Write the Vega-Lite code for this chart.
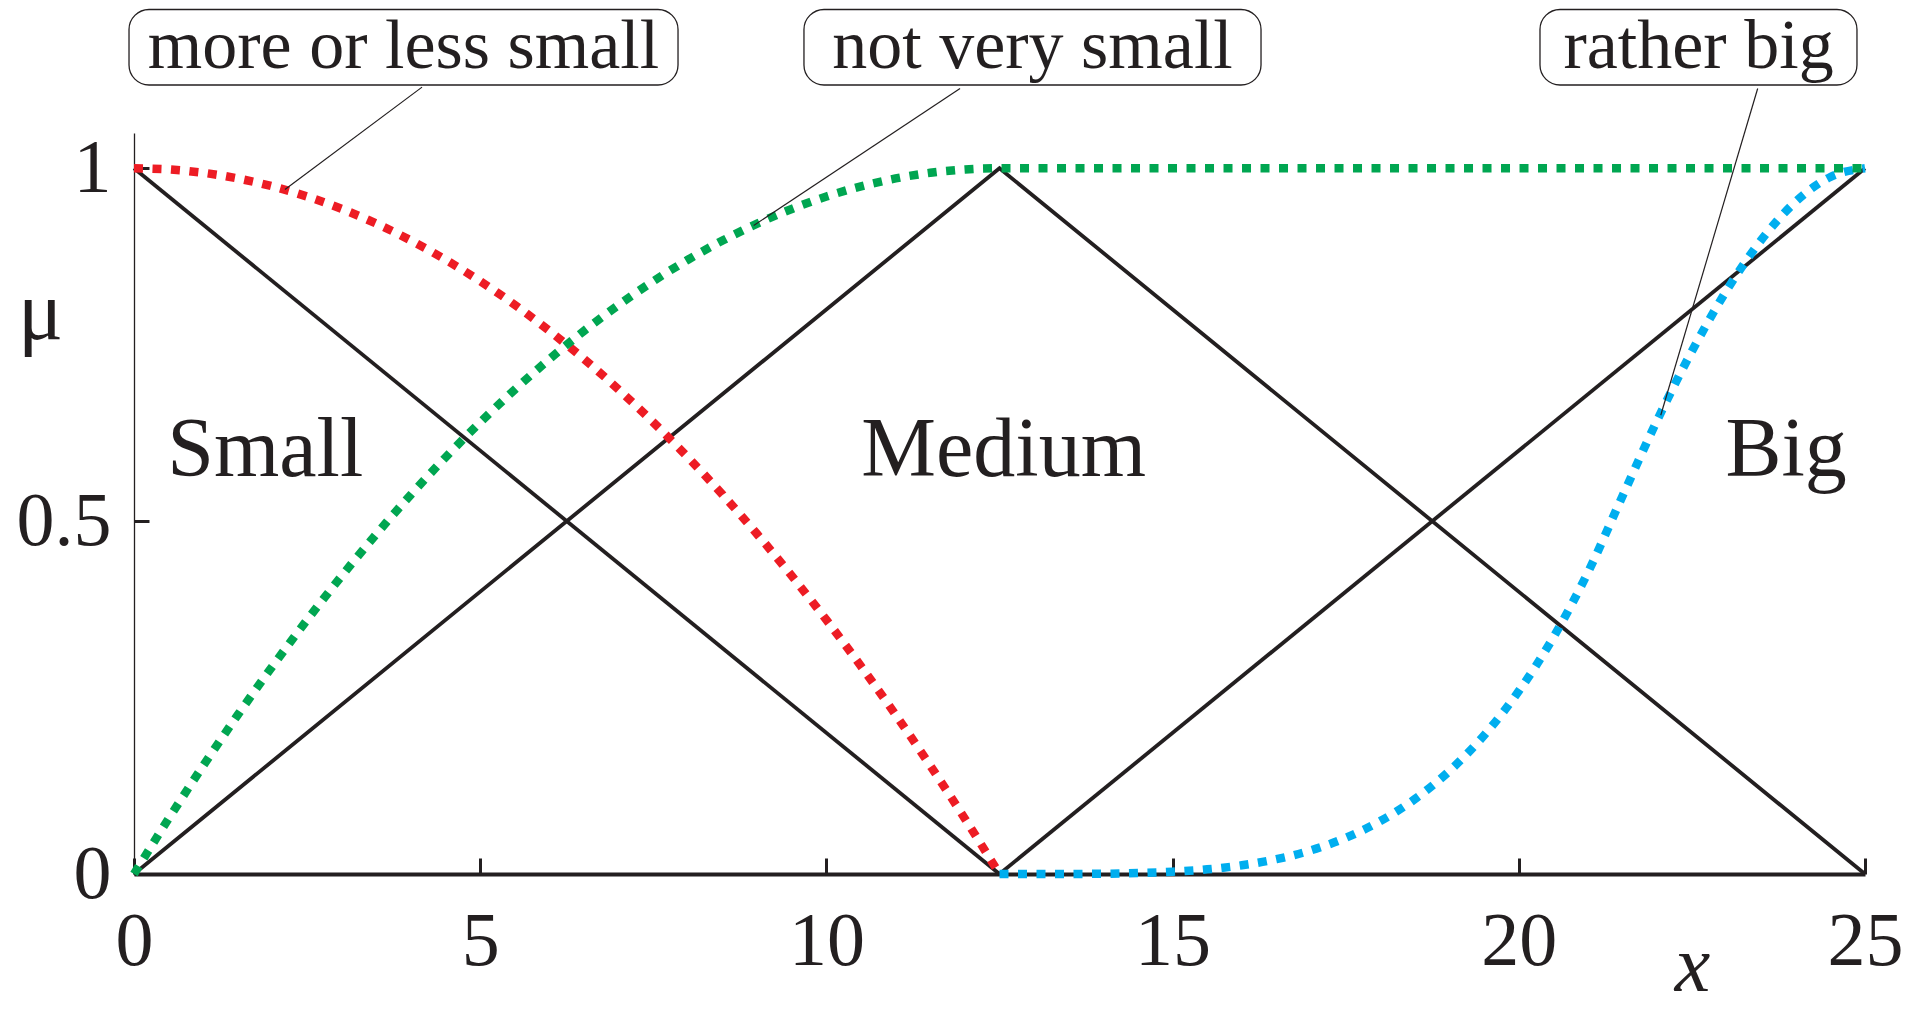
{
  "$schema": "https://vega.github.io/schema/vega-lite/v6.json",
  "width": 1731,
  "height": 741,
  "autosize": {"type": "none"},
  "padding": {"left": 134, "top": 133, "right": 60, "bottom": 136},
  "background": "white",
  "config": {
    "view": {"stroke": null},
    "font": "Liberation Serif"
  },
  "datasets": {
    "fuzzy": [
      {"set": "Small", "x": 0, "mu": 1},
      {"set": "Small", "x": 12.5, "mu": 0},
      {"set": "Medium", "x": 0, "mu": 0},
      {"set": "Medium", "x": 12.5, "mu": 1},
      {"set": "Medium", "x": 25, "mu": 0},
      {"set": "Big", "x": 12.5, "mu": 0},
      {"set": "Big", "x": 25, "mu": 1}
    ],
    "hedges": [
      {"hedge": "more or less small", "x": 0, "mu": 1},
      {"hedge": "more or less small", "x": 0.5, "mu": 0.9984},
      {"hedge": "more or less small", "x": 1, "mu": 0.9936},
      {"hedge": "more or less small", "x": 1.5, "mu": 0.9856},
      {"hedge": "more or less small", "x": 2, "mu": 0.9744},
      {"hedge": "more or less small", "x": 2.5, "mu": 0.96},
      {"hedge": "more or less small", "x": 3, "mu": 0.9424},
      {"hedge": "more or less small", "x": 3.5, "mu": 0.9216},
      {"hedge": "more or less small", "x": 4, "mu": 0.8976},
      {"hedge": "more or less small", "x": 4.5, "mu": 0.8704},
      {"hedge": "more or less small", "x": 5, "mu": 0.84},
      {"hedge": "more or less small", "x": 5.5, "mu": 0.8064},
      {"hedge": "more or less small", "x": 6, "mu": 0.7696},
      {"hedge": "more or less small", "x": 6.5, "mu": 0.7296},
      {"hedge": "more or less small", "x": 7, "mu": 0.6864},
      {"hedge": "more or less small", "x": 7.5, "mu": 0.64},
      {"hedge": "more or less small", "x": 8, "mu": 0.5904},
      {"hedge": "more or less small", "x": 8.5, "mu": 0.5376},
      {"hedge": "more or less small", "x": 9, "mu": 0.4816},
      {"hedge": "more or less small", "x": 9.5, "mu": 0.4224},
      {"hedge": "more or less small", "x": 10, "mu": 0.36},
      {"hedge": "more or less small", "x": 10.5, "mu": 0.2944},
      {"hedge": "more or less small", "x": 11, "mu": 0.2256},
      {"hedge": "more or less small", "x": 11.5, "mu": 0.1536},
      {"hedge": "more or less small", "x": 12, "mu": 0.0784},
      {"hedge": "more or less small", "x": 12.5, "mu": 0},

      {"hedge": "rather big", "x": 12.5, "mu": 0},
      {"hedge": "rather big", "x": 13, "mu": 0},
      {"hedge": "rather big", "x": 13.5, "mu": 0.0001},
      {"hedge": "rather big", "x": 14, "mu": 0.0004},
      {"hedge": "rather big", "x": 14.5, "mu": 0.0013},
      {"hedge": "rather big", "x": 15, "mu": 0.0032},
      {"hedge": "rather big", "x": 15.5, "mu": 0.0066},
      {"hedge": "rather big", "x": 16, "mu": 0.0123},
      {"hedge": "rather big", "x": 16.5, "mu": 0.021},
      {"hedge": "rather big", "x": 17, "mu": 0.0336},
      {"hedge": "rather big", "x": 17.5, "mu": 0.0512},
      {"hedge": "rather big", "x": 18, "mu": 0.075},
      {"hedge": "rather big", "x": 18.5, "mu": 0.1062},
      {"hedge": "rather big", "x": 19, "mu": 0.1462},
      {"hedge": "rather big", "x": 19.5, "mu": 0.1967},
      {"hedge": "rather big", "x": 20, "mu": 0.2592},
      {"hedge": "rather big", "x": 20.5, "mu": 0.3355},
      {"hedge": "rather big", "x": 21, "mu": 0.4277},
      {"hedge": "rather big", "x": 21.5, "mu": 0.5361},
      {"hedge": "rather big", "x": 22, "mu": 0.6432},
      {"hedge": "rather big", "x": 22.5, "mu": 0.7408},
      {"hedge": "rather big", "x": 23, "mu": 0.8267},
      {"hedge": "rather big", "x": 23.5, "mu": 0.8982},
      {"hedge": "rather big", "x": 24, "mu": 0.9528},
      {"hedge": "rather big", "x": 24.5, "mu": 0.9877},
      {"hedge": "rather big", "x": 25, "mu": 1},

      {"hedge": "not very small", "x": 0, "mu": 0},
      {"hedge": "not very small", "x": 0.5, "mu": 0.0784},
      {"hedge": "not very small", "x": 1, "mu": 0.1536},
      {"hedge": "not very small", "x": 1.5, "mu": 0.2256},
      {"hedge": "not very small", "x": 2, "mu": 0.2944},
      {"hedge": "not very small", "x": 2.5, "mu": 0.36},
      {"hedge": "not very small", "x": 3, "mu": 0.4224},
      {"hedge": "not very small", "x": 3.5, "mu": 0.4816},
      {"hedge": "not very small", "x": 4, "mu": 0.5376},
      {"hedge": "not very small", "x": 4.5, "mu": 0.5904},
      {"hedge": "not very small", "x": 5, "mu": 0.64},
      {"hedge": "not very small", "x": 5.5, "mu": 0.6864},
      {"hedge": "not very small", "x": 6, "mu": 0.7296},
      {"hedge": "not very small", "x": 6.5, "mu": 0.7696},
      {"hedge": "not very small", "x": 7, "mu": 0.8064},
      {"hedge": "not very small", "x": 7.5, "mu": 0.84},
      {"hedge": "not very small", "x": 8, "mu": 0.8704},
      {"hedge": "not very small", "x": 8.5, "mu": 0.8976},
      {"hedge": "not very small", "x": 9, "mu": 0.9216},
      {"hedge": "not very small", "x": 9.5, "mu": 0.9424},
      {"hedge": "not very small", "x": 10, "mu": 0.96},
      {"hedge": "not very small", "x": 10.5, "mu": 0.9744},
      {"hedge": "not very small", "x": 11, "mu": 0.9856},
      {"hedge": "not very small", "x": 11.5, "mu": 0.9936},
      {"hedge": "not very small", "x": 12, "mu": 0.9984},
      {"hedge": "not very small", "x": 12.5, "mu": 1},
      {"hedge": "not very small", "x": 25, "mu": 1}
    ],
    "callouts": [
      {"text": "more or less small", "x0": -0.072, "x1": 7.857, "xc": 3.892, "top": 1.225, "bottom": 1.118, "base": 1.1416, "lx": 4.16, "ly": 1.115, "px": 2.18, "py": 0.97},
      {"text": "not very small", "x0": 9.676, "x1": 16.277, "xc": 12.977, "top": 1.225, "bottom": 1.118, "base": 1.1416, "lx": 11.93, "ly": 1.113, "px": 8.95, "py": 0.919},
      {"text": "rather big", "x0": 20.306, "x1": 24.884, "xc": 22.596, "top": 1.225, "bottom": 1.118, "base": 1.1416, "lx": 23.45, "ly": 1.113, "px": 22.05, "py": 0.65}
    ],
    "setNames": [
      {"name": "Small", "x": 0.48, "mu": 0.564, "anchor": "left"},
      {"name": "Medium", "x": 12.56, "mu": 0.564, "anchor": "center"},
      {"name": "Big", "x": 23.86, "mu": 0.564, "anchor": "center"}
    ]
  },
  "layer": [
    {
      "data": {"name": "fuzzy"},
      "mark": {"type": "line", "color": "#231f20", "strokeWidth": 3.8, "strokeCap": "butt", "strokeJoin": "miter"},
      "encoding": {
        "x": {
          "field": "x", "type": "quantitative",
          "scale": {"domain": [0, 25], "nice": false, "zero": false},
          "axis": {
            "values": [0, 5, 10, 15, 20, 25],
            "format": "d",
            "grid": false,
            "domainColor": "#231f20", "domainWidth": 4,
            "tickColor": "#231f20", "tickWidth": 3, "tickSize": -16,
            "labelFlush": false, "labelFontSize": 76, "labelColor": "#231f20",
            "labelFont": "Liberation Serif", "labelPadding": 46, "labelDx": 8,
            "title": "x", "titleFont": "Liberation Serif", "titleFontStyle": "italic",
            "titleFontWeight": "normal", "titleFontSize": 80, "titleColor": "#231f20",
            "titleX": 1558, "titleY": 116, "titleBaseline": "alphabetic", "titleAlign": "center"
          }
        },
        "y": {
          "field": "mu", "type": "quantitative",
          "scale": {"domain": [0, 1.05], "nice": false, "zero": false},
          "axis": {
            "values": [0, 0.5, 1],
            "format": "~g",
            "grid": false,
            "domainColor": "#231f20", "domainWidth": 1.3,
            "tickColor": "#231f20", "tickWidth": 3, "tickSize": -15,
            "labelFontSize": 76, "labelColor": "#231f20", "labelFont": "Liberation Serif",
            "labelPadding": 38,
            "title": "μ", "titleFont": "Liberation Serif", "titleFontWeight": "normal",
            "titleFontSize": 84, "titleColor": "#231f20", "titleAngle": 0,
            "titleX": -94, "titleY": 205, "titleBaseline": "alphabetic", "titleAlign": "center"
          }
        },
        "detail": {"field": "set"}
      }
    },
    {
      "data": {"name": "hedges"},
      "mark": {"type": "line", "strokeWidth": 8.5, "strokeDash": [9, 9.5], "strokeCap": "butt", "interpolate": "monotone"},
      "encoding": {
        "x": {"field": "x", "type": "quantitative"},
        "y": {"field": "mu", "type": "quantitative"},
        "color": {
          "field": "hedge", "type": "nominal",
          "scale": {"domain": ["more or less small", "rather big", "not very small"], "range": ["#ed1c24", "#00aeef", "#00a651"]},
          "legend": null
        }
      }
    },
    {
      "data": {"name": "callouts"},
      "mark": {"type": "rule", "color": "#231f20", "strokeWidth": 1.2},
      "encoding": {
        "x": {"field": "lx", "type": "quantitative"},
        "y": {"field": "ly", "type": "quantitative"},
        "x2": {"field": "px"},
        "y2": {"field": "py"}
      }
    },
    {
      "data": {"name": "callouts"},
      "mark": {"type": "rect", "fill": "white", "stroke": "#231f20", "strokeWidth": 1.3, "cornerRadius": 20},
      "encoding": {
        "x": {"field": "x0", "type": "quantitative"},
        "x2": {"field": "x1"},
        "y": {"field": "top", "type": "quantitative"},
        "y2": {"field": "bottom"}
      }
    },
    {
      "data": {"name": "callouts"},
      "mark": {"type": "text", "font": "Liberation Serif", "fontSize": 70, "color": "#231f20", "align": "center", "baseline": "alphabetic"},
      "encoding": {
        "x": {"field": "xc", "type": "quantitative"},
        "y": {"field": "base", "type": "quantitative"},
        "text": {"field": "text"}
      }
    },
    {
      "data": {"name": "setNames"},
      "transform": [{"filter": "datum.anchor == 'left'"}],
      "mark": {"type": "text", "font": "Liberation Serif", "fontSize": 84, "color": "#231f20", "align": "left", "baseline": "alphabetic"},
      "encoding": {
        "x": {"field": "x", "type": "quantitative"},
        "y": {"field": "mu", "type": "quantitative"},
        "text": {"field": "name"}
      }
    },
    {
      "data": {"name": "setNames"},
      "transform": [{"filter": "datum.anchor == 'center'"}],
      "mark": {"type": "text", "font": "Liberation Serif", "fontSize": 84, "color": "#231f20", "align": "center", "baseline": "alphabetic"},
      "encoding": {
        "x": {"field": "x", "type": "quantitative"},
        "y": {"field": "mu", "type": "quantitative"},
        "text": {"field": "name"}
      }
    }
  ]
}
